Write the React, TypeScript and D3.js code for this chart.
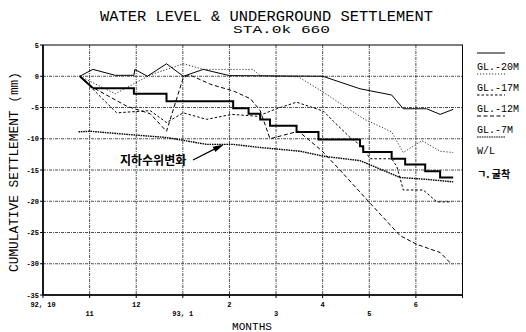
import React, { useEffect, useRef } from "react";
import * as d3 from "d3";

// months counted from 92.10
const monthTicks = [0, 1, 2, 3, 4, 5, 6, 7, 8, 9];
const monthLabels = ["92, 10", "11", "12", "93, 1", "2", "3", "4", "5", "6"];
const settleTicks = [5, 0, -5, -10, -15, -20, -25, -30, -35];

// [month, settlement mm]
const gl20 = [
  [0.79, 0], [1.07, 1.1], [1.55, 0.15], [1.95, 0.15], [1.97, 1.1], [2.24, 0],
  [2.65, 2.0], [3.01, 0], [3.44, 1.1], [4.0, 0.1], [6.0, 0], [6.8, -2.0],
  [7.48, -3.0], [7.73, -5.2], [8.23, -5.2], [8.52, -6.1], [8.8, -5.3],
];
const gl17 = [
  [0.79, 0], [1.55, -2.8], [1.9, -1.4], [2.3, 0.2], [2.73, 1.3], [3.01, 2.0],
  [3.44, 1.1], [4.5, 1.1], [4.66, 0.1], [5.48, -0.1], [5.98, -2.4], [6.9, -6.9],
  [7.48, -8.9], [7.73, -12.2], [8.13, -10.3], [8.52, -12.0], [8.8, -12.2],
];
const gl12 = [
  [0.79, 0], [1.58, -5.85], [2.3, -5.5], [2.65, -7.4], [3.01, -5.85], [3.51, -6.9],
  [4.05, -6.1], [4.6, -6.4], [5.01, -5.2], [5.44, -4.15], [6.02, -5.6], [6.23, -7.2],
  [6.59, -9.8], [6.84, -11.2], [7.02, -13.2], [7.48, -13.2], [7.59, -14.4],
  [7.73, -18.2], [8.16, -18.2], [8.45, -20.1], [8.77, -20.1],
];
const gl7 = [
  [0.79, 0], [1.08, -1.85], [1.8, -4.8], [2.3, -6.0], [2.65, -8.8], [3.01, -0.2],
  [3.15, 0.2], [3.6, -1.3], [4.1, -2.4], [4.45, -3.6], [4.66, -5.5], [4.8, -8.5],
  [4.87, -10.0], [5.48, -8.8], [5.98, -11.9], [6.37, -15.0], [6.98, -20.0],
  [7.66, -25.5], [8.02, -26.9], [8.52, -28.2], [8.77, -30.1],
];
const waterLevel = [
  [0.76, -8.9], [1.01, -8.8], [1.8, -9.3], [2.65, -9.8], [3.51, -10.9], [4.08, -10.9],
  [4.66, -11.4], [5.09, -11.7], [5.52, -12.0], [6.02, -12.8], [6.8, -13.5],
  [7.09, -14.4], [7.66, -16.2], [8.23, -16.5], [8.8, -16.9],
];
const excavStart = [0.79, 0];
const excavSteps = [
  [1.07, -1.9], [1.95, -2.8], [2.65, -4.0], [4.08, -5.1], [4.41, -6.0], [4.66, -6.9],
  [4.87, -7.9], [5.44, -8.9], [5.91, -10.1], [6.8, -11.2], [6.87, -12.1],
  [7.48, -13.2], [7.77, -14.1], [8.2, -15.2], [8.52, -16.2], [8.8, -16.2],
];

const legendNames = ["GL.-20M", "GL.-17M", "GL.-12M", "GL.-7M", "W/L"];

const MONO = "'Liberation Mono', 'DejaVu Sans Mono', monospace";

function App() {
  const ref = useRef<SVGSVGElement>(null);

  useEffect(() => {
    const svg = d3.select(ref.current);
    svg.selectAll("*").remove();

    const x = d3.scaleLinear().domain([0, 9]).range([43, 462.5]);
    const y = d3.scaleLinear().domain([-35, 5]).range([295, 45]);

    const styles = [
      { data: gl20, width: 1, dash: null },
      { data: gl17, width: 0.8, dash: "1.2,1.8" },
      { data: gl12, width: 1, dash: "2.5,2" },
      { data: gl7, width: 1, dash: "4,2.5" },
      { data: waterLevel, width: 1.4, dash: "1.6,0.8" },
    ];

    // grid
    const grid = svg.append("g").attr("stroke", "#222").attr("stroke-width", 0.8)
      .attr("stroke-dasharray", "3,1,1,1");
    grid.selectAll("line.h").data(settleTicks.slice(1, -1)).enter().append("line")
      .attr("x1", x(0)).attr("x2", x(9))
      .attr("y1", d => y(d)).attr("y2", d => y(d));
    grid.selectAll("line.v").data(monthTicks.slice(1, -1)).enter().append("line")
      .attr("y1", y(5)).attr("y2", y(-35))
      .attr("x1", d => x(d)).attr("x2", d => x(d));

    // frame
    svg.append("rect").attr("x", x(0)).attr("y", y(5))
      .attr("width", x(9) - x(0)).attr("height", y(-35) - y(5))
      .attr("fill", "none").attr("stroke", "#000").attr("stroke-width", 1);
    svg.append("line").attr("x1", x(0)).attr("x2", x(0)).attr("y1", y(5)).attr("y2", y(-35))
      .attr("stroke", "#000").attr("stroke-width", 1.6);
    svg.append("line").attr("x1", x(0)).attr("x2", x(9)).attr("y1", y(-35)).attr("y2", y(-35))
      .attr("stroke", "#000").attr("stroke-width", 1.6);

    // y ticks
    settleTicks.forEach(t => {
      svg.append("line").attr("x1", x(0) - 3).attr("x2", x(0))
        .attr("y1", y(t)).attr("y2", y(t)).attr("stroke", "#000");
      svg.append("text").attr("x", x(0) - 4).attr("y", y(t) + 2.5)
        .attr("text-anchor", "end").attr("font-size", 7).attr("font-weight", "bold")
        .attr("font-family", MONO).text(String(t));
    });

    // x ticks
    monthTicks.forEach(m => {
      svg.append("line").attr("x1", x(m)).attr("x2", x(m))
        .attr("y1", y(-35)).attr("y2", y(-35) + 3).attr("stroke", "#000");
    });
    monthLabels.forEach((lab, i) => {
      svg.append("text").attr("x", x(i)).attr("y", i % 2 === 0 ? 307 : 316)
        .attr("text-anchor", "middle").attr("font-size", 7).attr("font-weight", "bold")
        .attr("font-family", MONO).text(lab);
    });

    // series
    const line = d3.line<number[]>().x(d => x(d[0])).y(d => y(d[1]));
    styles.forEach(s => {
      svg.append("path").attr("d", line(s.data as number[][]))
        .attr("fill", "none").attr("stroke", "#000")
        .attr("stroke-width", s.width)
        .attr("stroke-dasharray", s.dash);
    });

    // excavation steps
    svg.append("path").attr("d", line([excavStart, excavSteps[0]]))
      .attr("fill", "none").attr("stroke", "#000").attr("stroke-width", 2);
    const step = d3.line<number[]>().x(d => x(d[0])).y(d => y(d[1])).curve(d3.curveStepAfter);
    svg.append("path").attr("d", step(excavSteps))
      .attr("fill", "none").attr("stroke", "#000").attr("stroke-width", 2);

    // annotation
    svg.append("text").attr("x", 120).attr("y", 165)
      .attr("font-size", 12).attr("font-weight", "bold")
      .attr("font-family", "'Noto Sans CJK KR', sans-serif").text("지하수위변화");
    const tipX = x(3.88), tipY = y(-10.9);
    svg.append("line").attr("x1", 193).attr("y1", 160).attr("x2", tipX - 6).attr("y2", tipY + 3)
      .attr("stroke", "#000").attr("stroke-width", 1.2);
    const ang = Math.atan2(tipY - 160, tipX - 193);
    const hl = 11, hw = 3;
    const bx = tipX - hl * Math.cos(ang), by = tipY - hl * Math.sin(ang);
    svg.append("path")
      .attr("d", `M${tipX},${tipY}L${bx + hw * Math.sin(ang)},${by - hw * Math.cos(ang)}L${bx - hw * Math.sin(ang)},${by + hw * Math.cos(ang)}Z`)
      .attr("fill", "#000");

    // legend
    legendNames.forEach((name, i) => {
      const ly = 53 + i * 21;
      svg.append("line").attr("x1", 477).attr("x2", 505).attr("y1", ly).attr("y2", ly)
        .attr("stroke", "#000").attr("stroke-width", Math.min(styles[i].width, 1.2))
        .attr("stroke-dasharray", styles[i].dash);
      svg.append("text").attr("x", 477).attr("y", ly + 16.5)
        .attr("font-size", 10).attr("font-family", MONO).text(name);
    });
    svg.append("text").attr("x", 477).attr("y", 178)
      .attr("font-size", 10).attr("font-weight", "bold")
      .attr("font-family", "'Noto Sans CJK KR', sans-serif").text("ㄱ. 굴착");

    // titles
    svg.append("text").attr("x", 100).attr("y", 20.5).attr("textLength", 333)
      .attr("lengthAdjust", "spacingAndGlyphs")
      .attr("font-size", 14).attr("font-family", MONO)
      .text("WATER LEVEL & UNDERGROUND SETTLEMENT");
    svg.append("text").attr("x", 233).attr("y", 33).attr("textLength", 97)
      .attr("lengthAdjust", "spacingAndGlyphs")
      .attr("font-size", 10).attr("font-family", MONO).text("STA.0k 660");
    svg.append("text").attr("x", 252).attr("y", 330).attr("text-anchor", "middle")
      .attr("textLength", 40).attr("lengthAdjust", "spacingAndGlyphs")
      .attr("font-size", 11).attr("font-family", MONO).text("MONTHS");
    svg.append("text").attr("transform", "translate(18,172) rotate(-90)")
      .attr("text-anchor", "middle").attr("textLength", 200)
      .attr("lengthAdjust", "spacingAndGlyphs")
      .attr("font-size", 12).attr("font-family", MONO)
      .text("CUMULATIVE SETTLEMENT (mm)");
  }, []);

  return (
    <svg ref={ref} width={526} height={332}
      style={{ position: "absolute", left: 0, top: 0, background: "#fff" }} />
  );
}

export default App;
